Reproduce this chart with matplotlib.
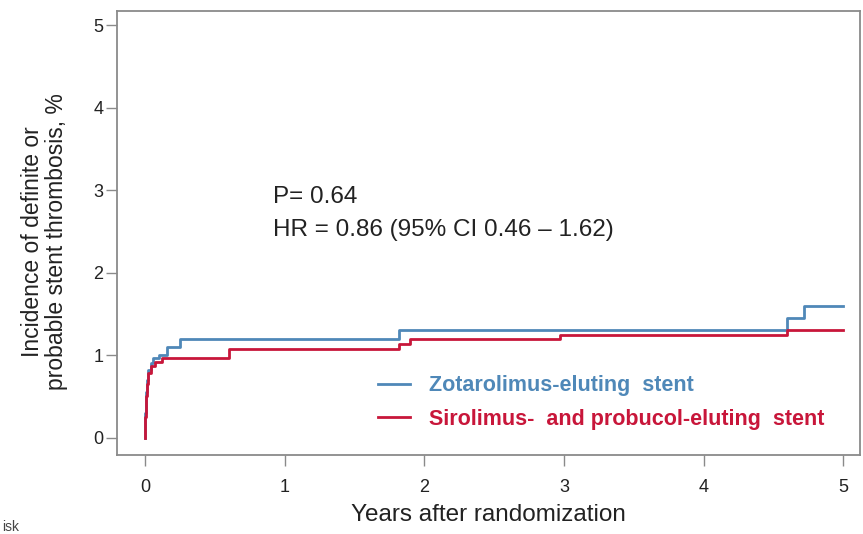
import matplotlib
matplotlib.use("Agg")
import matplotlib.pyplot as plt

plt.rcParams["font.family"] = ["Liberation Sans", "DejaVu Sans"]

# cumulative incidence (%)
zes_years = [0, 0.003, 0.008, 0.015, 0.025, 0.04, 0.06, 0.10, 0.16, 0.25, 1.82, 4.60, 4.72, 5.0]
zes_pct   = [0, 0.30, 0.55, 0.70, 0.82, 0.90, 0.96, 1.00, 1.10, 1.20, 1.30, 1.45, 1.60, 1.60]

spes_years = [0, 0.003, 0.008, 0.015, 0.025, 0.04, 0.07, 0.12, 0.60, 1.82, 1.90, 2.97, 4.60, 5.0]
spes_pct   = [0, 0.25, 0.50, 0.65, 0.78, 0.87, 0.92, 0.97, 1.08, 1.13, 1.19, 1.25, 1.31, 1.31]

x_ticks = [0, 1, 2, 3, 4, 5]
y_ticks = [0, 1, 2, 3, 4, 5]

BLUE = "#4f88b8"
RED = "#c8163a"
GRAY = "#8a8a8a"
INK = "#222222"

fig = plt.figure(figsize=(8.63, 5.34), dpi=100)
ax = fig.add_axes([0.1356, 0.148, 0.861, 0.831])

ax.step(zes_years, zes_pct, where="post", color=BLUE, lw=2,
        label="Zotarolimus-eluting  stent")
ax.step(spes_years, spes_pct, where="post", color=RED, lw=2,
        label="Sirolimus-  and probucol-eluting  stent")

ax.set_xlim(-0.2, 5.12)
ax.set_ylim(-0.21, 5.17)
ax.set_xticks(x_ticks)
ax.set_yticks(y_ticks)
ax.tick_params(axis="both", direction="out", length=8, width=1, color=GRAY,
               labelsize=13, labelcolor=INK)
ax.tick_params(axis="x", pad=9)
ax.tick_params(axis="y", pad=2)
for sp in ax.spines.values():
    sp.set_color(GRAY)
    sp.set_linewidth(1.3)

ax.set_xlabel("Years after randomization", fontsize=17.5, color=INK, labelpad=6)
ax.set_ylabel("Incidence of definite or\nprobable stent thrombosis, %",
              fontsize=16.5, color=INK, linespacing=1.05)
ax.yaxis.set_label_coords(-0.066, 0.48)

ax.text(0.92, 2.85, "P= 0.64", fontsize=17.5, color=INK, va="baseline")
ax.text(0.92, 2.45, "HR = 0.86 (95% CI 0.46 \u2013 1.62)", fontsize=17.5,
        color=INK, va="baseline")

leg = ax.legend(loc="upper left", bbox_to_anchor=(0.351, 0.18), frameon=False,
                borderpad=0, borderaxespad=0,
                handlelength=1.5, handletextpad=0.9, labelspacing=0.6,
                labelcolor="linecolor", prop={"weight": "bold", "size": 15.5})

fig.text(0.002, 0.006, "isk", fontsize=10, color="#444444")

fig.savefig("out.png", dpi=100)
